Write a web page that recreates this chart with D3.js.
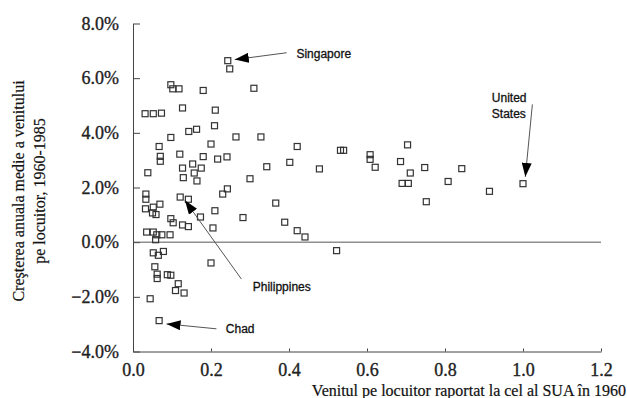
<!DOCTYPE html>
<html>
<head>
<meta charset="utf-8">
<script src="https://cdn.jsdelivr.net/npm/d3@7"></script>
<style>
  body { margin: 0; background: #fff; }
  svg { display: block; }
  .axis text { font-family: 'Liberation Serif', 'Times New Roman', serif; font-size: 18px; fill: #222; stroke: #222; stroke-width: 0.35px; }
  .axis path, .axis line { stroke: #444; }
  .note { font-family: 'Liberation Sans', Arial, sans-serif; font-size: 12px; fill: #111; stroke: #111; stroke-width: 0.3px; }
  .title { font-family: 'Liberation Serif', 'Times New Roman', serif; font-size: 16px; fill: #111; stroke: #111; stroke-width: 0.2px; }
</style>
</head>
<body>
<div id="chart"></div>
<script>
// income relative to US in 1960
const incomeRatio = [
  0.243, 0.248, 0.097, 0.102, 0.118, 0.180, 0.310, 0.031, 0.052, 0.073,
  0.127, 0.211, 0.143, 0.163, 0.209, 0.097, 0.264, 0.328, 0.200, 0.067,
  0.421, 0.532, 0.540, 0.070, 0.070, 0.120, 0.180, 0.217, 0.241, 0.343,
  0.402, 0.478, 0.300, 0.038, 0.127, 0.153, 0.175, 0.157, 0.129, 0.164,
  0.230, 0.242, 0.608, 0.608, 0.621, 0.704, 0.686, 0.711, 0.748, 0.843,
  0.690, 0.706, 0.808, 0.914, 1.000, 0.752, 0.033, 0.033, 0.032, 0.052,
  0.069, 0.050, 0.059, 0.121, 0.142, 0.173, 0.210, 0.205, 0.097, 0.103,
  0.127, 0.142, 0.282, 0.366, 0.389, 0.421, 0.441, 0.522, 0.200, 0.035,
  0.052, 0.061, 0.074, 0.095, 0.058, 0.052, 0.065, 0.078, 0.056, 0.062,
  0.062, 0.088, 0.097, 0.116, 0.109, 0.131, 0.044, 0.067
];
// average annual growth 1960-1985 (%)
const growthRate = [
  6.64, 6.34, 5.76, 5.61, 5.61, 5.55, 5.63, 4.70, 4.70, 4.72,
  4.91, 4.83, 4.05, 4.13, 4.26, 3.83, 3.85, 3.85, 3.59, 3.50,
  3.50, 3.36, 3.36, 3.14, 2.96, 3.22, 3.13, 3.04, 3.12, 2.76,
  2.92, 2.68, 2.32, 2.54, 2.71, 2.86, 2.71, 2.53, 2.36, 2.24,
  1.76, 1.95, 3.20, 3.03, 2.74, 3.56, 2.95, 2.53, 2.73, 2.69,
  2.15, 2.15, 2.22, 1.86, 2.14, 1.48, 1.76, 1.57, 1.22, 1.28,
  1.39, 1.07, 1.01, 1.65, 1.57, 0.92, 1.15, 0.52, 0.86, 0.71,
  0.63, 0.57, 0.90, 1.43, 0.73, 0.42, 0.19, -0.31, -0.76, 0.37,
  0.37, 0.27, 0.27, 0.27, 0.09, -0.39, -0.48, -0.34, -0.90, -1.17,
  -1.33, -1.19, -1.21, -1.52, -1.77, -1.86, -2.07, -2.87
];

const xTicks = [0, 0.2, 0.4, 0.6, 0.8, 1.0, 1.2];
const yTicks = [-4, -2, 0, 2, 4, 6, 8];

// labels: text lines, text anchor point, arrow start, arrow tip (data units)
const noteLabels = [['Singapore'], ['United', 'States'], ['Philippines'], ['Chad']];
const noteText = [[0.419, 6.72], [0.920, 5.14], [0.307, -1.80], [0.238, -3.31]];
const noteFrom = [[0.394, 6.93], [1.024, 5.04], [0.278, -1.35], [0.214, -3.17]];
const noteTo = [[0.261, 6.68], [1.006, 2.39], [0.133, 1.53], [0.086, -2.99]];

const W = 627, H = 398;
const margin = { top: 23.5, right: 26, bottom: 46.5, left: 133 };
const width = W - margin.left - margin.right;
const height = H - margin.top - margin.bottom;

const svg = d3.select('#chart').append('svg')
  .attr('width', W)
  .attr('height', H);

svg.append('defs').append('marker')
  .attr('id', 'head')
  .attr('markerUnits', 'userSpaceOnUse')
  .attr('viewBox', '0 0 14 10')
  .attr('refX', 14)
  .attr('refY', 5)
  .attr('markerWidth', 14)
  .attr('markerHeight', 10)
  .attr('orient', 'auto')
  .append('path')
  .attr('d', 'M0,0L14,5L0,10Z')
  .attr('fill', '#000');

const g = svg.append('g')
  .attr('transform', 'translate(' + margin.left + ',' + margin.top + ')');

const x = d3.scaleLinear().domain([0, 1.2]).range([0, width]);
const y = d3.scaleLinear().domain([-4, 8]).range([height, 0]);

// axes
g.append('g')
  .attr('class', 'axis')
  .attr('transform', 'translate(0,' + height + ')')
  .call(d3.axisBottom(x).tickValues(xTicks).tickFormat(d3.format('.1f'))
    .tickSizeInner(-3).tickSizeOuter(0).tickPadding(12));

g.append('g')
  .attr('class', 'axis')
  .call(d3.axisLeft(y).tickValues(yTicks).tickFormat(d => d3.format('.1f')(d) + '%')
    .tickSizeInner(-7).tickSizeOuter(0).tickPadding(14));

// zero line
g.append('line')
  .attr('x1', 0).attr('x2', width)
  .attr('y1', y(0)).attr('y2', y(0))
  .attr('stroke', '#555')
  .attr('stroke-width', 1);

// points
const s = 6;
g.append('g')
  .selectAll('rect')
  .data(incomeRatio.map((v, i) => [v, growthRate[i]]))
  .join('rect')
  .attr('x', d => x(d[0]) - s / 2)
  .attr('y', d => y(d[1]) - s / 2)
  .attr('width', s)
  .attr('height', s)
  .attr('fill', 'none')
  .attr('stroke', '#333')
  .attr('stroke-width', 1.2);

// annotations
noteLabels.forEach((lines, i) => {
  g.append('line')
    .attr('x1', x(noteFrom[i][0])).attr('y1', y(noteFrom[i][1]))
    .attr('x2', x(noteTo[i][0])).attr('y2', y(noteTo[i][1]))
    .attr('stroke', '#555')
    .attr('stroke-width', 1)
    .attr('marker-end', 'url(#head)');
  const t = g.append('text')
    .attr('class', 'note')
    .attr('x', x(noteText[i][0]))
    .attr('y', y(noteText[i][1]));
  lines.forEach((ln, j) => {
    t.append('tspan')
      .attr('x', x(noteText[i][0]))
      .attr('dy', j === 0 ? 0 : 16)
      .text(ln);
  });
});

// axis titles
svg.append('text')
  .attr('class', 'title')
  .attr('x', 626)
  .attr('y', 396)
  .attr('text-anchor', 'end')
  .text('Venitul pe locuitor raportat la cel al SUA în 1960');

const yt = svg.append('text')
  .attr('class', 'title')
  .attr('transform', 'translate(24,191) rotate(-90)')
  .attr('text-anchor', 'middle');
yt.append('tspan').attr('x', 0).attr('dy', 0).text('Creşterea anuala medie a venitului');
yt.append('tspan').attr('x', 0).attr('dy', 21).text('pe locuitor, 1960-1985');
</script>
</body>
</html>
